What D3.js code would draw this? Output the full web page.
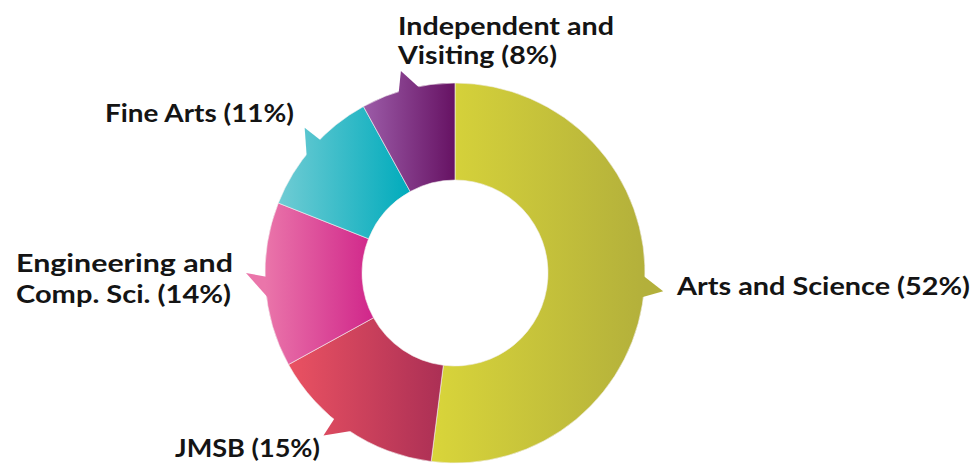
<!DOCTYPE html>
<html>
<head>
<meta charset="utf-8">
<script src="https://cdn.jsdelivr.net/npm/d3@7"></script>
<style>
  html, body { margin: 0; padding: 0; background: #fff; }
  svg { display: block; }
  text { font-family: Lato, "Open Sans", sans-serif; font-weight: 700; fill: #141414; }
</style>
</head>
<body>
<svg id="chart" width="980" height="466"></svg>
<script>
// Faculty shares of enrolment (percent), clockwise from 12 o'clock
const faculties = ["Arts and Science", "JMSB", "Engineering and Comp. Sci.", "Fine Arts", "Independent and Visiting"];
const shares = [52, 15, 14, 11, 8];
const labelLines = [
  ["Arts and Science (52%)"],
  ["JMSB (15%)"],
  ["Engineering and", "Comp. Sci. (14%)"],
  ["Fine Arts (11%)"],
  ["Independent and", "Visiting (8%)"]
];
const colorsLight = ["#d9d53a", "#ea5262", "#ea75aa", "#70ccd4", "#9c5ca8"];
const colorsDark  = ["#b3b03b", "#ab2f55", "#d0268a", "#00abbc", "#661263"];

const W = 980, H = 466;
const cx = 455, cy = 273;
const rOuter = 190, rInner = 93;

// pointer placement (degrees clockwise from 12 o'clock): base centre and tip direction
const pointerBase = [94, 216, 265, 311, 346];
const pointerTip  = [95, 219, 270, 314, 345];

const svg = d3.select("#chart");
const defs = svg.append("defs");
const g = svg.append("g").attr("transform", `translate(${cx},${cy})`);

const pie = d3.pie().sort(null).value(d => d.value);
const arc = d3.arc().innerRadius(rInner).outerRadius(rOuter);
const data = pie(faculties.map((name, i) => ({ name, value: shares[i], i })));

const slices = g.selectAll("g.slice").data(data).join("g").attr("class", "slice");
const rad = deg => deg * Math.PI / 180;
const pt = (ang, r) => [r * Math.sin(ang), -r * Math.cos(ang)];

slices.each(function (d) {
  const i = d.data.i;
  const sel = d3.select(this);
  const path = sel.append("path").attr("d", arc(d));
  const bb = path.node().getBBox();
  const grad = defs.append("linearGradient")
    .attr("id", "grad" + i)
    .attr("gradientUnits", "userSpaceOnUse")
    .attr("x1", bb.x).attr("y1", 0)
    .attr("x2", bb.x + bb.width).attr("y2", 0);
  grad.append("stop").attr("offset", "0%").attr("stop-color", colorsLight[i]);
  grad.append("stop").attr("offset", "100%").attr("stop-color", colorsDark[i]);
  path.attr("fill", `url(#grad${i})`)
      .attr("stroke", "#f4f0f0").attr("stroke-width", 0.6);

  // small pointer triangle on the outer edge, aimed at the label
  const a = rad(pointerBase[i]);
  const half = 0.065;
  const tri = [pt(a - half, rOuter - 4), pt(rad(pointerTip[i]), rOuter + 19), pt(a + half, rOuter - 4)];
  sel.append("path")
    .attr("d", d3.line()(tri) + "Z")
    .attr("fill", `url(#grad${i})`);
});

// Labels: anchor point, line gap and the width each line is set to
const labelPos = [
  { x: 677, y: 295, gap: 0,  widths: [293] },
  { x: 175, y: 457, gap: 0,  widths: [145] },
  { x: 16,  y: 272, gap: 31, widths: [217, 215] },
  { x: 105, y: 122, gap: 0,  widths: [189] },
  { x: 398, y: 35,  gap: 29, widths: [216, 159] }
];

labelLines.forEach((lines, i) => {
  const p = labelPos[i];
  lines.forEach((line, k) => {
    svg.append("text")
      .attr("x", p.x).attr("y", p.y + k * p.gap)
      .attr("font-size", 25)
      .attr("textLength", p.widths[k])
      .attr("lengthAdjust", "spacingAndGlyphs")
      .text(line);
  });
});
</script>
</body>
</html>
